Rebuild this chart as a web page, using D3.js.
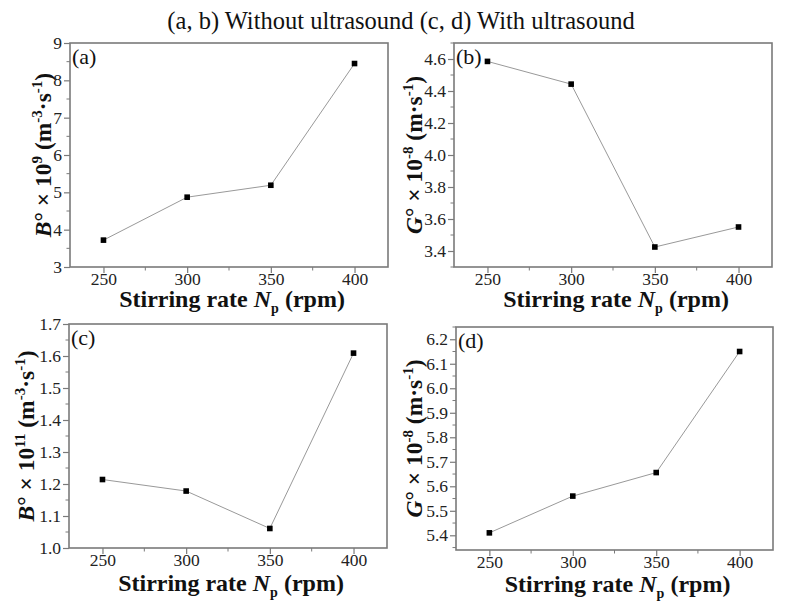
<!DOCTYPE html>
<html><head><meta charset="utf-8">
<script src="https://cdn.jsdelivr.net/npm/d3@7"></script>
</head><body style="margin:0">
<svg id="c" width="787" height="611"></svg>
<script>
const stirring = [250, 300, 350, 400];
const xTicks = [250, 300, 350, 400];
const seriesA = [3.72, 4.87, 5.19, 8.45];
const seriesB = [4.585, 4.443, 3.425, 3.55];
const seriesC = [1.214, 1.178, 1.061, 1.609];
const seriesD = [5.41, 5.56, 5.656, 6.15];
const ticksA = [3, 4, 5, 6, 7, 8, 9];
const ticksB = [3.4, 3.6, 3.8, 4.0, 4.2, 4.4, 4.6];
const ticksC = [1.0, 1.1, 1.2, 1.3, 1.4, 1.5, 1.6, 1.7];
const ticksD = [5.4, 5.5, 5.6, 5.7, 5.8, 5.9, 6.0, 6.1, 6.2];
const title = "(a, b) Without ultrasound (c, d) With ultrasound";

const panels = [
  {id:"(a)", data:seriesA, ticks:ticksA, dom:[3,9], fmt:d3.format("d"), minorStep:0.5,
   box:[70,43,388,267], ylOff:19, xlOff:40, sym:"B", exp:"9", unit:"-3", unit2:"·s", u2exp:"-1"},
  {id:"(b)", data:seriesB, ticks:ticksB, dom:[3.3,4.7], fmt:d3.format(".1f"), minorStep:0.1,
   box:[454,43,772,267], ylOff:32, xlOff:40, sym:"G", exp:"-8", unit:"", unit2:"·s", u2exp:"-1"},
  {id:"(c)", data:seriesC, ticks:ticksC, dom:[1.0,1.7], fmt:d3.format(".1f"), minorStep:0.05,
   box:[69,324,387,548], ylOff:35, xlOff:43, sym:"B", exp:"11", unit:"-3", unit2:"·s", u2exp:"-1"},
  {id:"(d)", data:seriesD, ticks:ticksD, dom:[5.34,6.25], fmt:d3.format(".1f"), minorStep:0.05,
   box:[456,327,773,550], ylOff:34, xlOff:42, sym:"G", exp:"-8", unit:"", unit2:"·s", u2exp:"-1"}
];

const svg = d3.select("#c");
const FONT = '"Times New Roman"';
const frameCol = "#7a7a7a";

svg.append("text").attr("x", 401).attr("y", 29).attr("text-anchor","middle")
  .style("font-family", FONT).attr("font-size", 24.5).attr("fill","#111").text(title);

panels.forEach(p => {
  const [x0,y0,x1,y1] = p.box;
  const x = d3.scaleLinear().domain([230,420]).range([x0,x1]);
  const y = d3.scaleLinear().domain(p.dom).range([y1,y0]);
  const g = svg.append("g");

  const xMinor = d3.range(275, 420, 50);
  g.selectAll(null).data(xMinor).join("line")
    .attr("x1", d=>x(d)).attr("x2", d=>x(d)).attr("y1", y1).attr("y2", y1+3.5)
    .attr("stroke", frameCol).attr("stroke-width",1);
  const yMinor = [];
  for (let v = p.ticks[0] - p.minorStep; v <= p.dom[1] + 1e-9; v += 2*p.minorStep) {
    if (v >= p.dom[0] - 1e-9) yMinor.push(+v.toFixed(4));
  }
  g.selectAll(null).data(yMinor).join("line")
    .attr("x1", x0-3.5).attr("x2", x0).attr("y1", d=>y(d)).attr("y2", d=>y(d))
    .attr("stroke", frameCol).attr("stroke-width",1);

  const xAxis = d3.axisBottom(x).tickValues(xTicks).tickSize(6).tickPadding(0);
  const yAxis = d3.axisLeft(y).tickValues(p.ticks).tickFormat(p.fmt).tickSize(6).tickPadding(2);
  const gx = g.append("g").attr("transform", `translate(0,${y1})`).call(xAxis);
  const gy = g.append("g").attr("transform", `translate(${x0},0)`).call(yAxis);
  [gx, gy].forEach(a => {
    a.attr("font-family", null).attr("font-size", null);
    a.select(".domain").remove();
    a.selectAll(".tick line").attr("stroke", frameCol).attr("stroke-width", 1.2);
    a.selectAll(".tick text").style("font-family", FONT).attr("font-size", 17.5).attr("fill","#222");
  });

  g.append("rect").attr("x", x0).attr("y", y0).attr("width", x1-x0).attr("height", y1-y0)
    .attr("fill","none").attr("stroke", frameCol).attr("stroke-width", 1.6);

  const pts = stirring.map((s,i)=>[s, p.data[i]]);
  g.append("path").datum(pts)
    .attr("d", d3.line().x(d=>x(d[0])).y(d=>y(d[1])))
    .attr("fill","none").attr("stroke","#999").attr("stroke-width",1);
  g.selectAll(null).data(pts).join("rect")
    .attr("x", d=>x(d[0])-2.8).attr("y", d=>y(d[1])-2.8).attr("width",5.6).attr("height",5.6)
    .attr("fill","#000");

  g.append("text").attr("x", x0+2).attr("y", y0+21).style("font-family", FONT)
    .attr("font-size", 22).attr("fill","#111").text(p.id);

  const xl = g.append("text").attr("x", (x0+x1)/2 + 3).attr("y", y1+p.xlOff)
    .attr("text-anchor","middle").style("font-family", FONT).attr("font-weight","bold")
    .attr("font-size", 24).attr("fill","#111");
  xl.append("tspan").text("Stirring rate ");
  xl.append("tspan").attr("font-style","italic").text("N");
  xl.append("tspan").attr("font-size", 14).attr("dy", 6).text("p");
  xl.append("tspan").attr("dy", -6).text(" (rpm)");

  const cy = (y0+y1)/2;
  const yl = g.append("text").attr("transform", `translate(${x0-p.ylOff},${cy}) rotate(-90)`)
    .attr("text-anchor","middle").style("font-family", FONT).attr("font-weight","bold")
    .attr("font-size", 23.5).attr("fill","#111");
  yl.append("tspan").attr("font-style","italic").text(p.sym);
  yl.append("tspan").text("° × 10");
  yl.append("tspan").attr("font-size", 15).attr("dy", -9).text(p.exp);
  yl.append("tspan").attr("dy", 9).text(" (m");
  if (p.unit) {
    yl.append("tspan").attr("font-size", 15).attr("dy", -9).text(p.unit);
    yl.append("tspan").attr("dy", 9).text(p.unit2);
  } else {
    yl.append("tspan").text(p.unit2);
  }
  yl.append("tspan").attr("font-size", 15).attr("dy", -9).text(p.u2exp);
  yl.append("tspan").attr("dy", 9).text(")");
});
</script>
</body></html>
